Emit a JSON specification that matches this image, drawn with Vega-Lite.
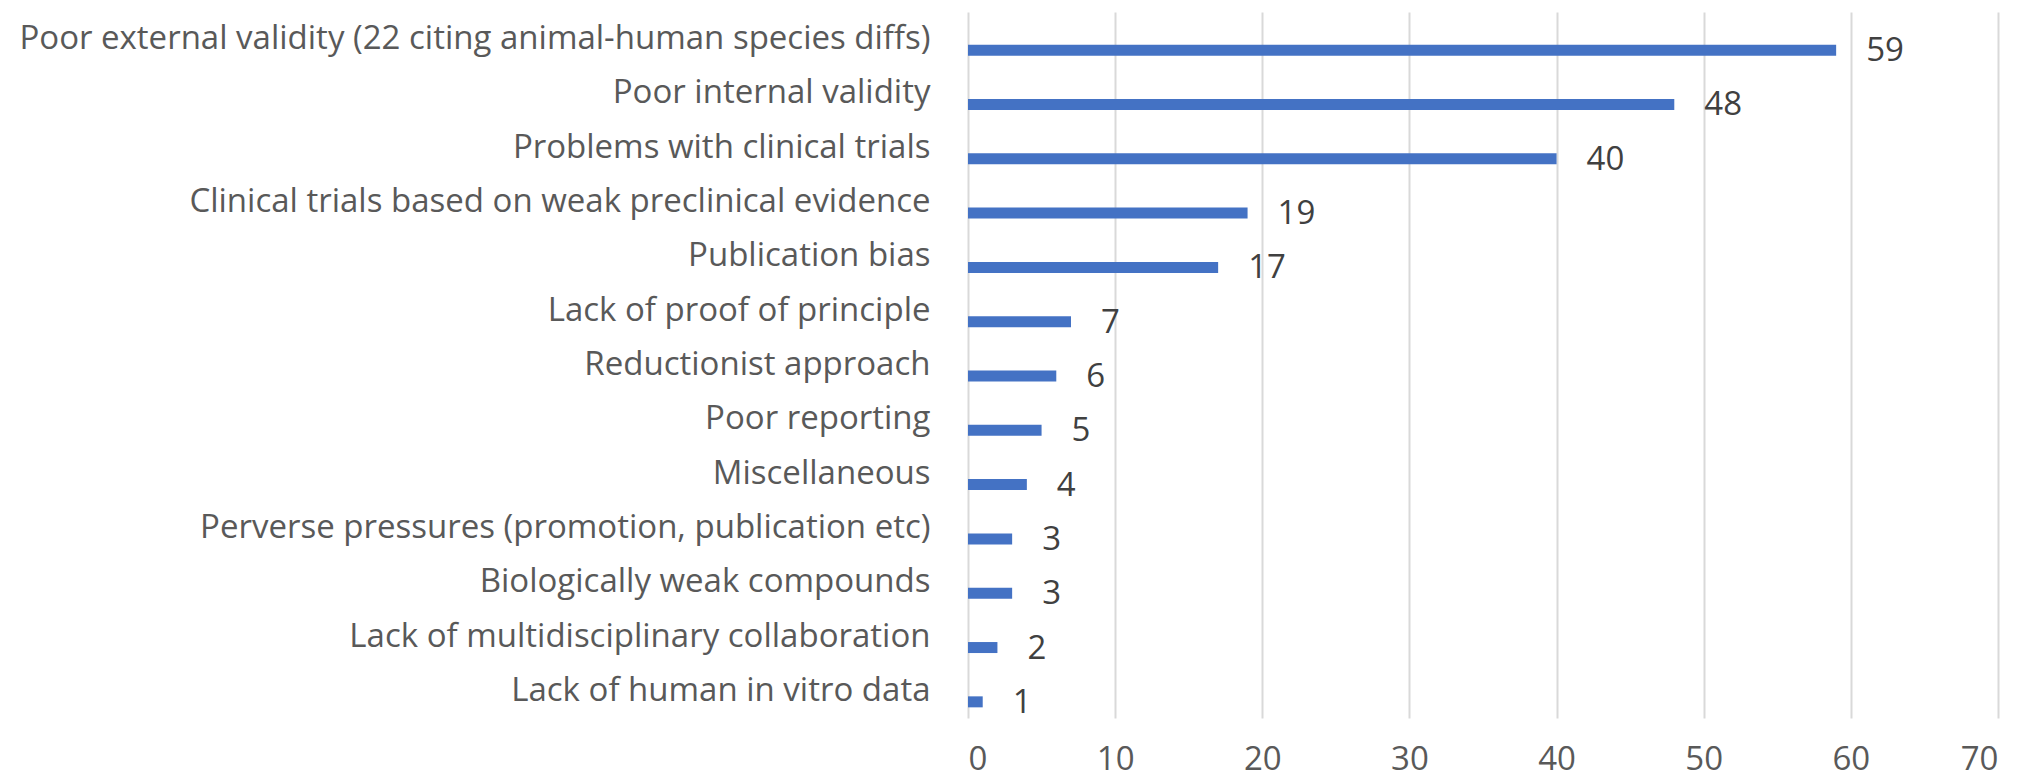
{
  "$schema": "https://vega.github.io/schema/vega-lite/v6.json",
  "autosize": {"type": "none"},
  "width": 1030,
  "height": 706,
  "padding": {"left": 968, "top": 12, "right": 33, "bottom": 65},
  "background": "white",
  "config": {"view": {"stroke": null}, "font": "Open Sans"},
  "data": {
    "values": [
      {"reason": "Poor external validity (22 citing animal-human species diffs)", "count": 59},
      {"reason": "Poor internal validity", "count": 48},
      {"reason": "Problems with clinical trials", "count": 40},
      {"reason": "Clinical trials based on weak preclinical evidence", "count": 19},
      {"reason": "Publication bias", "count": 17},
      {"reason": "Lack of proof of principle", "count": 7},
      {"reason": "Reductionist approach", "count": 6},
      {"reason": "Poor reporting", "count": 5},
      {"reason": "Miscellaneous", "count": 4},
      {"reason": "Perverse pressures (promotion, publication etc)", "count": 3},
      {"reason": "Biologically weak compounds", "count": 3},
      {"reason": "Lack of multidisciplinary collaboration", "count": 2},
      {"reason": "Lack of human in vitro data", "count": 1}
    ]
  },
  "encoding": {
    "y": {
      "field": "reason", "type": "nominal", "sort": null, "title": null,
      "axis": {"domain": false, "ticks": false, "labelFontSize": 33, "labelColor": "#595959", "labelPadding": 38, "labelLimit": 1000, "labelFont": "Open Sans"}
    },
    "x": {
      "field": "count", "type": "quantitative", "title": null,
      "scale": {"domain": [0, 70], "nice": false},
      "axis": {"values": [0,10,20,30,40,50,60,70], "domain": false, "ticks": false, "grid": true, "gridColor": "#D9D9D9", "gridWidth": 2, "labelFontSize": 33, "labelColor": "#595959", "labelPadding": 25, "labelFont": "Open Sans"}
    }
  },
  "layer": [
    {"mark": {"type": "bar", "color": "#4472C4", "height": 11, "yOffset": 11}},
    {"mark": {"type": "text", "align": "left", "dx": 30, "yOffset": 12, "fontSize": 33, "color": "#404040", "font": "Open Sans"},
     "encoding": {"text": {"field": "count", "type": "quantitative"}}}
  ]
}
